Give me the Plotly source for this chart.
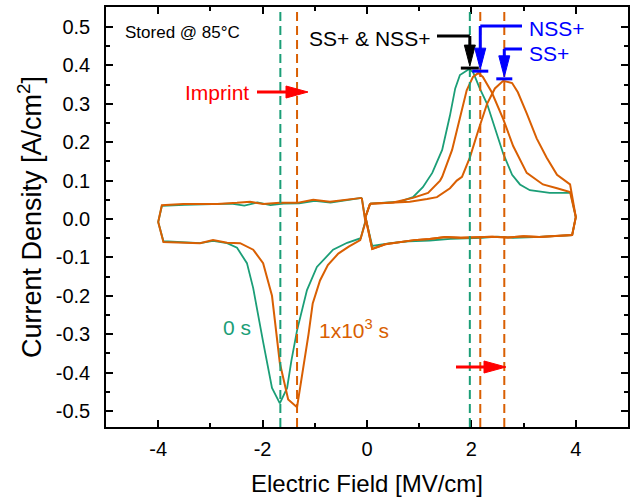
import plotly.graph_objects as go

# ---------------- data ----------------
# 0 s : positive-field half loop
E_0s_pos = [0.06, 0.3, 0.63, 0.88, 1.07, 1.25, 1.44, 1.59, 1.69, 1.78, 1.95, 2.03, 2.16, 2.30, 2.45,
            2.61, 2.78, 2.93, 3.12, 3.5, 3.9, 4.0, 3.93, 3.6, 3.2, 2.8, 2.5, 2.2, 1.9, 1.6, 1.2,
            0.8, 0.45, 0.1, -0.03, 0.06]
J_0s_pos = [0.040, 0.042, 0.045, 0.057, 0.083, 0.12, 0.18, 0.27, 0.34, 0.375, 0.39, 0.383, 0.34, 0.30,
            0.24, 0.17, 0.115, 0.09, 0.075, 0.068, 0.068, 0.005, -0.042, -0.045, -0.047, -0.049,
            -0.046, -0.049, -0.050, -0.052, -0.056, -0.058, -0.063, -0.070, 0.005, 0.040]
# 0 s : negative-field half loop
E_0s_neg = [-0.1, -0.03, -0.12, -0.38, -0.65, -0.96, -1.15, -1.34, -1.45, -1.53, -1.67, -1.82, -1.99,
            -2.18, -2.3, -2.49, -2.68, -2.95, -3.2, -3.52, -3.9, -4.0, -3.93, -3.5, -3.0, -2.6,
            -2.35, -2.1, -1.85, -1.6, -1.3, -1.0, -0.7, -0.35, -0.1]
J_0s_neg = [0.055, -0.005, -0.050, -0.062, -0.080, -0.125, -0.185, -0.29, -0.37, -0.44, -0.48, -0.44,
            -0.32, -0.18, -0.115, -0.075, -0.063, -0.057, -0.063, -0.060, -0.058, -0.008, 0.034,
            0.037, 0.038, 0.040, 0.035, 0.043, 0.036, 0.040, 0.041, 0.047, 0.043, 0.050, 0.055]

# 1x10^3 s : SS+ positive half loop
E_1e3_ss_pos = [0.06, 0.5, 0.82, 1.15, 1.34, 1.59, 1.72, 1.82, 1.97, 2.13, 2.30, 2.45, 2.61, 2.78, 2.89,
                3.06, 3.25, 3.44, 3.64, 3.89, 4.0, 3.93, 3.6, 3.3, 3.0, 2.7, 2.4, 2.1, 1.8, 1.5, 1.2,
                0.9, 0.6, 0.35, 0.1, -0.03, 0.06]
J_1e3_ss_pos = [0.040, 0.042, 0.045, 0.052, 0.057, 0.080, 0.10, 0.11, 0.16, 0.23, 0.30, 0.34, 0.36,
                0.354, 0.33, 0.275, 0.21, 0.16, 0.115, 0.09, 0.005, -0.042, -0.044, -0.047, -0.045,
                -0.048, -0.046, -0.048, -0.049, -0.047, -0.052, -0.055, -0.060, -0.066, -0.078,
                0.005, 0.040]
# 1x10^3 s : NSS+ positive half loop
E_1e3_nss_pos = [0.06, 0.5, 0.88, 1.17, 1.40, 1.44, 1.63, 1.78, 1.91, 2.03, 2.13, 2.22, 2.39, 2.61, 2.80,
                 3.06, 3.37, 3.64, 3.89, 4.0, 3.93, 3.6, 3.3, 3.0, 2.7, 2.4, 2.1, 1.8, 1.5, 1.2, 0.9,
                 0.6, 0.35, 0.1, -0.03, 0.06]
J_1e3_nss_pos = [0.040, 0.043, 0.055, 0.068, 0.10, 0.11, 0.18, 0.265, 0.335, 0.37, 0.38, 0.37, 0.33,
                 0.26, 0.19, 0.12, 0.09, 0.08, 0.07, 0.005, -0.042, -0.044, -0.047, -0.045, -0.048,
                 -0.046, -0.048, -0.049, -0.047, -0.052, -0.055, -0.060, -0.066, -0.078, 0.005, 0.040]
# 1x10^3 s : negative-field half loop
E_1e3_neg = [-0.1, -0.03, -0.13, -0.35, -0.55, -0.75, -0.9, -1.04, -1.12, -1.23, -1.34, -1.51, -1.67,
             -1.82, -1.99, -2.18, -2.43, -2.68, -2.95, -3.2, -3.52, -3.9, -4.0, -3.93, -3.52, -2.87,
             -2.49, -2.24, -1.99, -1.67, -1.34, -1.03, -0.71, -0.33, -0.1]
J_1e3_neg = [0.055, -0.008, -0.055, -0.072, -0.09, -0.12, -0.16, -0.22, -0.30, -0.39, -0.49, -0.47,
             -0.375, -0.20, -0.115, -0.080, -0.063, -0.062, -0.055, -0.063, -0.062, -0.060, -0.008,
             0.036, 0.039, 0.039, 0.042, 0.045, 0.039, 0.042, 0.042, 0.050, 0.045, 0.052, 0.055]

# peak (coercive) fields marked by dashed lines
peak_E_0s = [-1.66, 1.97]
peak_E_1e3 = [-1.34, 2.17, 2.63]
# positive peak currents: SS+ & NSS+ (0 s), NSS+ (1e3 s), SS+ (1e3 s)
peak_J_pos = [0.393, 0.385, 0.365]
peak_E_pos = [1.97, 2.17, 2.63]

x_ticks = [-4, -2, 0, 2, 4]
x_tick_text = ["-4", "-2", "0", "2", "4"]
y_ticks = [0.5, 0.4, 0.3, 0.2, 0.1, 0.0, -0.1, -0.2, -0.3, -0.4, -0.5]
y_tick_text = ["0.5", "0.4", "0.3", "0.2", "0.1", "0.0", "-0.1", "-0.2", "-0.3", "-0.4", "-0.5"]

# ---------------- styling ----------------
GREEN = "#1b9e77"
ORANGE = "#d95f02"
BLUE = "#0000ff"
RED = "#ff0000"
FONT = "Liberation Sans, Arial, sans-serif"

W, H = 635, 497
ML, MR, MT, MB = 106, 7, 7, 70
XR = [-5, 5]
YR = [-0.5417, 0.5521]
PW, PH = W - ML - MR, H - MT - MB


def px2x(px):
    return XR[0] + (px - ML) / PW * (XR[1] - XR[0])


def py2y(py):
    return YR[1] - (py - MT) / PH * (YR[1] - YR[0])


dx = (XR[1] - XR[0]) / PW   # data units per pixel
dy = (YR[1] - YR[0]) / PH


def join(*parts):
    xs, ys = [], []
    for i, (a, b) in enumerate(parts):
        if i:
            xs.append(None)
            ys.append(None)
        xs += a
        ys += b
    return xs, ys


fig = go.Figure()
gx, gy = join((E_0s_pos, J_0s_pos), (E_0s_neg, J_0s_neg))
fig.add_trace(go.Scatter(x=gx, y=gy, mode="lines", name="0 s",
                         line=dict(color=GREEN, width=1.8)))
ox, oy = join((E_1e3_ss_pos, J_1e3_ss_pos), (E_1e3_neg, J_1e3_neg))
fig.add_trace(go.Scatter(x=ox, y=oy, mode="lines", name="1x10^3 s",
                         line=dict(color=ORANGE, width=2)))
fig.add_trace(go.Scatter(x=E_1e3_nss_pos, y=J_1e3_nss_pos, mode="lines", name="1x10^3 s NSS",
                         line=dict(color=ORANGE, width=2)))

shapes = []
for e in peak_E_0s:
    shapes.append(dict(type="line", xref="x", yref="paper", x0=e, x1=e, y0=0, y1=1,
                       line=dict(color=GREEN, width=2, dash="9px,5px")))
for e in peak_E_1e3:
    shapes.append(dict(type="line", xref="x", yref="paper", x0=e, x1=e, y0=0, y1=1,
                       line=dict(color=ORANGE, width=2, dash="9px,5px")))


def tri_down(x, ytip, length=21, half=5.5, color="black"):
    p = (f"M {x - half * dx},{ytip + length * dy} L {x + half * dx},{ytip + length * dy} "
         f"L {x},{ytip} Z")
    return dict(type="path", path=p, xref="x", yref="y", fillcolor=color,
                line=dict(color=color, width=1))


def tri_right(xtip, y, length=22, half=6, color=RED):
    p = (f"M {xtip - length * dx},{y + half * dy} L {xtip - length * dx},{y - half * dy} "
         f"L {xtip},{y} Z")
    return dict(type="path", path=p, xref="x", yref="y", fillcolor=color,
                line=dict(color=color, width=1))


def seg(x0, y0, x1, y1, color, width=3):
    return dict(type="line", xref="x", yref="y", x0=x0, y0=y0, x1=x1, y1=y1,
                line=dict(color=color, width=width))


# Imprint arrows
y_imp = py2y(92)
shapes.append(seg(px2x(257), y_imp, px2x(290), y_imp, RED))
shapes.append(tri_right(px2x(308), y_imp))
y_imp2 = py2y(367)
shapes.append(seg(px2x(456), y_imp2, px2x(488), y_imp2, RED))
shapes.append(tri_right(px2x(506), y_imp2))

# peak markers (arrow + bar)
colors = ["black", BLUE, BLUE]
label_py = [36, 26, 49]
bar_half = [9 * dx, 8 * dx, 8 * dx]
for e, j, c, lp, bh in zip(peak_E_pos, peak_J_pos, colors, label_py, bar_half):
    ytip = j + 2 * dy
    shapes.append(seg(e - bh, j, e + bh, j, c, 3))
    shapes.append(tri_down(e, ytip, color=c))
    shapes.append(seg(e, py2y(lp), e, ytip + 20 * dy, c, 3))
# horizontal leaders
shapes.append(seg(px2x(437), py2y(36), peak_E_pos[0], py2y(36), "black", 3))
shapes.append(seg(peak_E_pos[1], py2y(26), px2x(522), py2y(26), BLUE, 3))
shapes.append(seg(peak_E_pos[2], py2y(49), px2x(522), py2y(49), BLUE, 3))

annotations = [
    dict(text="Stored @ 85°C", x=px2x(123), y=py2y(32), xanchor="left", yanchor="middle",
         font=dict(size=17, color="black")),
    dict(text="Imprint", x=px2x(251), y=py2y(92), xanchor="right", yanchor="middle",
         font=dict(size=21, color=RED)),
    dict(text="SS+ & NSS+", x=px2x(432), y=py2y(38), xanchor="right", yanchor="middle",
         font=dict(size=21, color="black")),
    dict(text="NSS+", x=px2x(527), y=py2y(28), xanchor="left", yanchor="middle",
         font=dict(size=21, color=BLUE)),
    dict(text="SS+", x=px2x(527), y=py2y(53), xanchor="left", yanchor="middle",
         font=dict(size=21, color=BLUE)),
    dict(text="0 s", x=px2x(221), y=py2y(327), xanchor="left", yanchor="middle",
         font=dict(size=21, color=GREEN)),
    dict(text="1x10<sup>3</sup> s", x=px2x(317), y=py2y(329), xanchor="left", yanchor="middle",
         font=dict(size=21, color=ORANGE)),
]
for a in annotations:
    a.update(xref="x", yref="y", showarrow=False)

axis_common = dict(showgrid=False, zeroline=False, showline=True, linecolor="black", linewidth=1.5,
                   mirror="allticks", ticks="inside", ticklen=7, tickwidth=1.5, tickcolor="black",
                   tickfont=dict(size=20, color="black"), automargin=False)

fig.update_layout(
    width=W, height=H,
    margin=dict(l=ML, r=MR, t=MT, b=MB),
    paper_bgcolor="white", plot_bgcolor="white",
    font=dict(family=FONT, color="black"),
    showlegend=False,
    shapes=shapes,
    annotations=annotations,
    xaxis=dict(range=XR, tickmode="array", tickvals=x_ticks, ticktext=x_tick_text,
               minor=dict(ticks="inside", dtick=1, ticklen=4, tickwidth=1.5, tickcolor="black"),
               title=dict(text="Electric Field [MV/cm]", font=dict(size=24), standoff=16),
               ticklabelstandoff=3,
               **axis_common),
    yaxis=dict(range=YR, tickmode="array", tickvals=y_ticks, ticktext=y_tick_text,
               minor=dict(ticks="inside", dtick=0.05, tick0=0, ticklen=4, tickwidth=1.5,
                          tickcolor="black"),
               title=dict(text="Current Density [A/cm<sup>2</sup>]", font=dict(size=27), standoff=6),
               ticklabelstandoff=10,
               **axis_common),
)

fig.write_html("out.html", config={"displayModeBar": False},
               post_script="document.body.style.margin='0px';document.body.style.overflow='hidden';")
